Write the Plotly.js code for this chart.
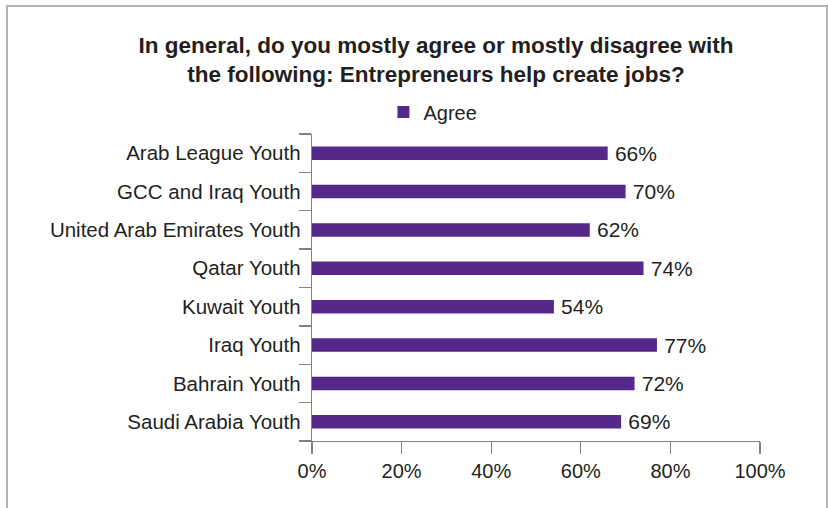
<!DOCTYPE html>
<html>
<head>
<meta charset="utf-8">
<script src="https://cdn.plot.ly/plotly-3.0.1.min.js"></script>
<style>
  html, body { margin: 0; padding: 0; background: #fff; }
  #wrap { position: relative; width: 828px; height: 508px; }
  #chart { width: 828px; height: 508px; }
  #frame { position: absolute; left: 6px; top: 5px; width: 818px; height: 520px;
           border-top: 2px solid #b3b3b3; border-left: 2px solid #b3b3b3; border-right: 2px solid #b3b3b3;
           pointer-events: none; }
</style>
</head>
<body>
<div id="wrap">
  <div id="chart"></div>
  <div id="frame"></div>
</div>
<script>
const categories = [
  "Arab League Youth",
  "GCC and Iraq Youth",
  "United Arab Emirates Youth",
  "Qatar Youth",
  "Kuwait Youth",
  "Iraq Youth",
  "Bahrain Youth",
  "Saudi Arabia Youth"
];
const agreeValues = [66, 70, 62, 74, 54, 77, 72, 69];
const seriesName = "Agree";
const xTickValues = [0, 20, 40, 60, 80, 100];
const xTickLabels = ["0%", "20%", "40%", "60%", "80%", "100%"];

const font = "Liberation Sans, Arial, Helvetica, sans-serif";
const barColor = "#55288a";
const axisColor = "#808080";

const trace = {
  type: "bar",
  orientation: "h",
  name: seriesName,
  y: categories,
  x: agreeValues,
  width: 0.35,
  marker: { color: barColor },
  text: agreeValues.map(v => "\u2009" + v + "%"),
  textposition: "outside",
  constraintext: "none",
  cliponaxis: false,
  textfont: { family: font, size: 21, color: "#231f20" },
  hoverinfo: "x+y"
};

const layout = {
  width: 828,
  height: 508,
  paper_bgcolor: "#ffffff",
  plot_bgcolor: "#ffffff",
  margin: { l: 312, r: 68, t: 134, b: 67 },
  font: { family: font, color: "#231f20" },
  title: {
    text: "In general, do you mostly agree or mostly disagree with<br>the following: Entrepreneurs help create jobs?",
    font: { family: font, size: 22.5, color: "#231f20", weight: "bold" },
    x: 436 / 828,
    xanchor: "center",
    xref: "container",
    yref: "container",
    y: 1 - 53 / 508,
    yanchor: "top"
  },
  showlegend: true,
  legend: {
    orientation: "h",
    x: (400 - 312) / 448 - 0.037,
    xanchor: "left",
    y: 1 + 22 / 307,
    yanchor: "middle",
    font: { family: font, size: 20, color: "#231f20" },
    bgcolor: "rgba(0,0,0,0)"
  },
  xaxis: {
    range: [0, 100],
    tickvals: xTickValues,
    ticktext: xTickLabels,
    showgrid: false,
    zeroline: false,
    showline: true,
    linecolor: axisColor,
    linewidth: 1.3,
    ticks: "outside",
    ticklen: 12,
    tickwidth: 1.3,
    tickcolor: axisColor,
    tickfont: { family: font, size: 20, color: "#231f20" },
    fixedrange: true
  },
  yaxis: {
    type: "category",
    categoryorder: "array",
    categoryarray: categories.slice().reverse(),
    showgrid: false,
    zeroline: false,
    showline: true,
    linecolor: axisColor,
    linewidth: 1.3,
    ticks: "outside",
    tickson: "boundaries",
    ticklen: 12,
    tickwidth: 1.3,
    tickcolor: axisColor,
    tickfont: { family: font, size: 20.5, color: "#231f20" },
    ticklabelstandoff: 6,
    fixedrange: true
  }
};

Plotly.newPlot("chart", [trace], layout, { displayModeBar: false, staticPlot: true });
</script>
</body>
</html>
